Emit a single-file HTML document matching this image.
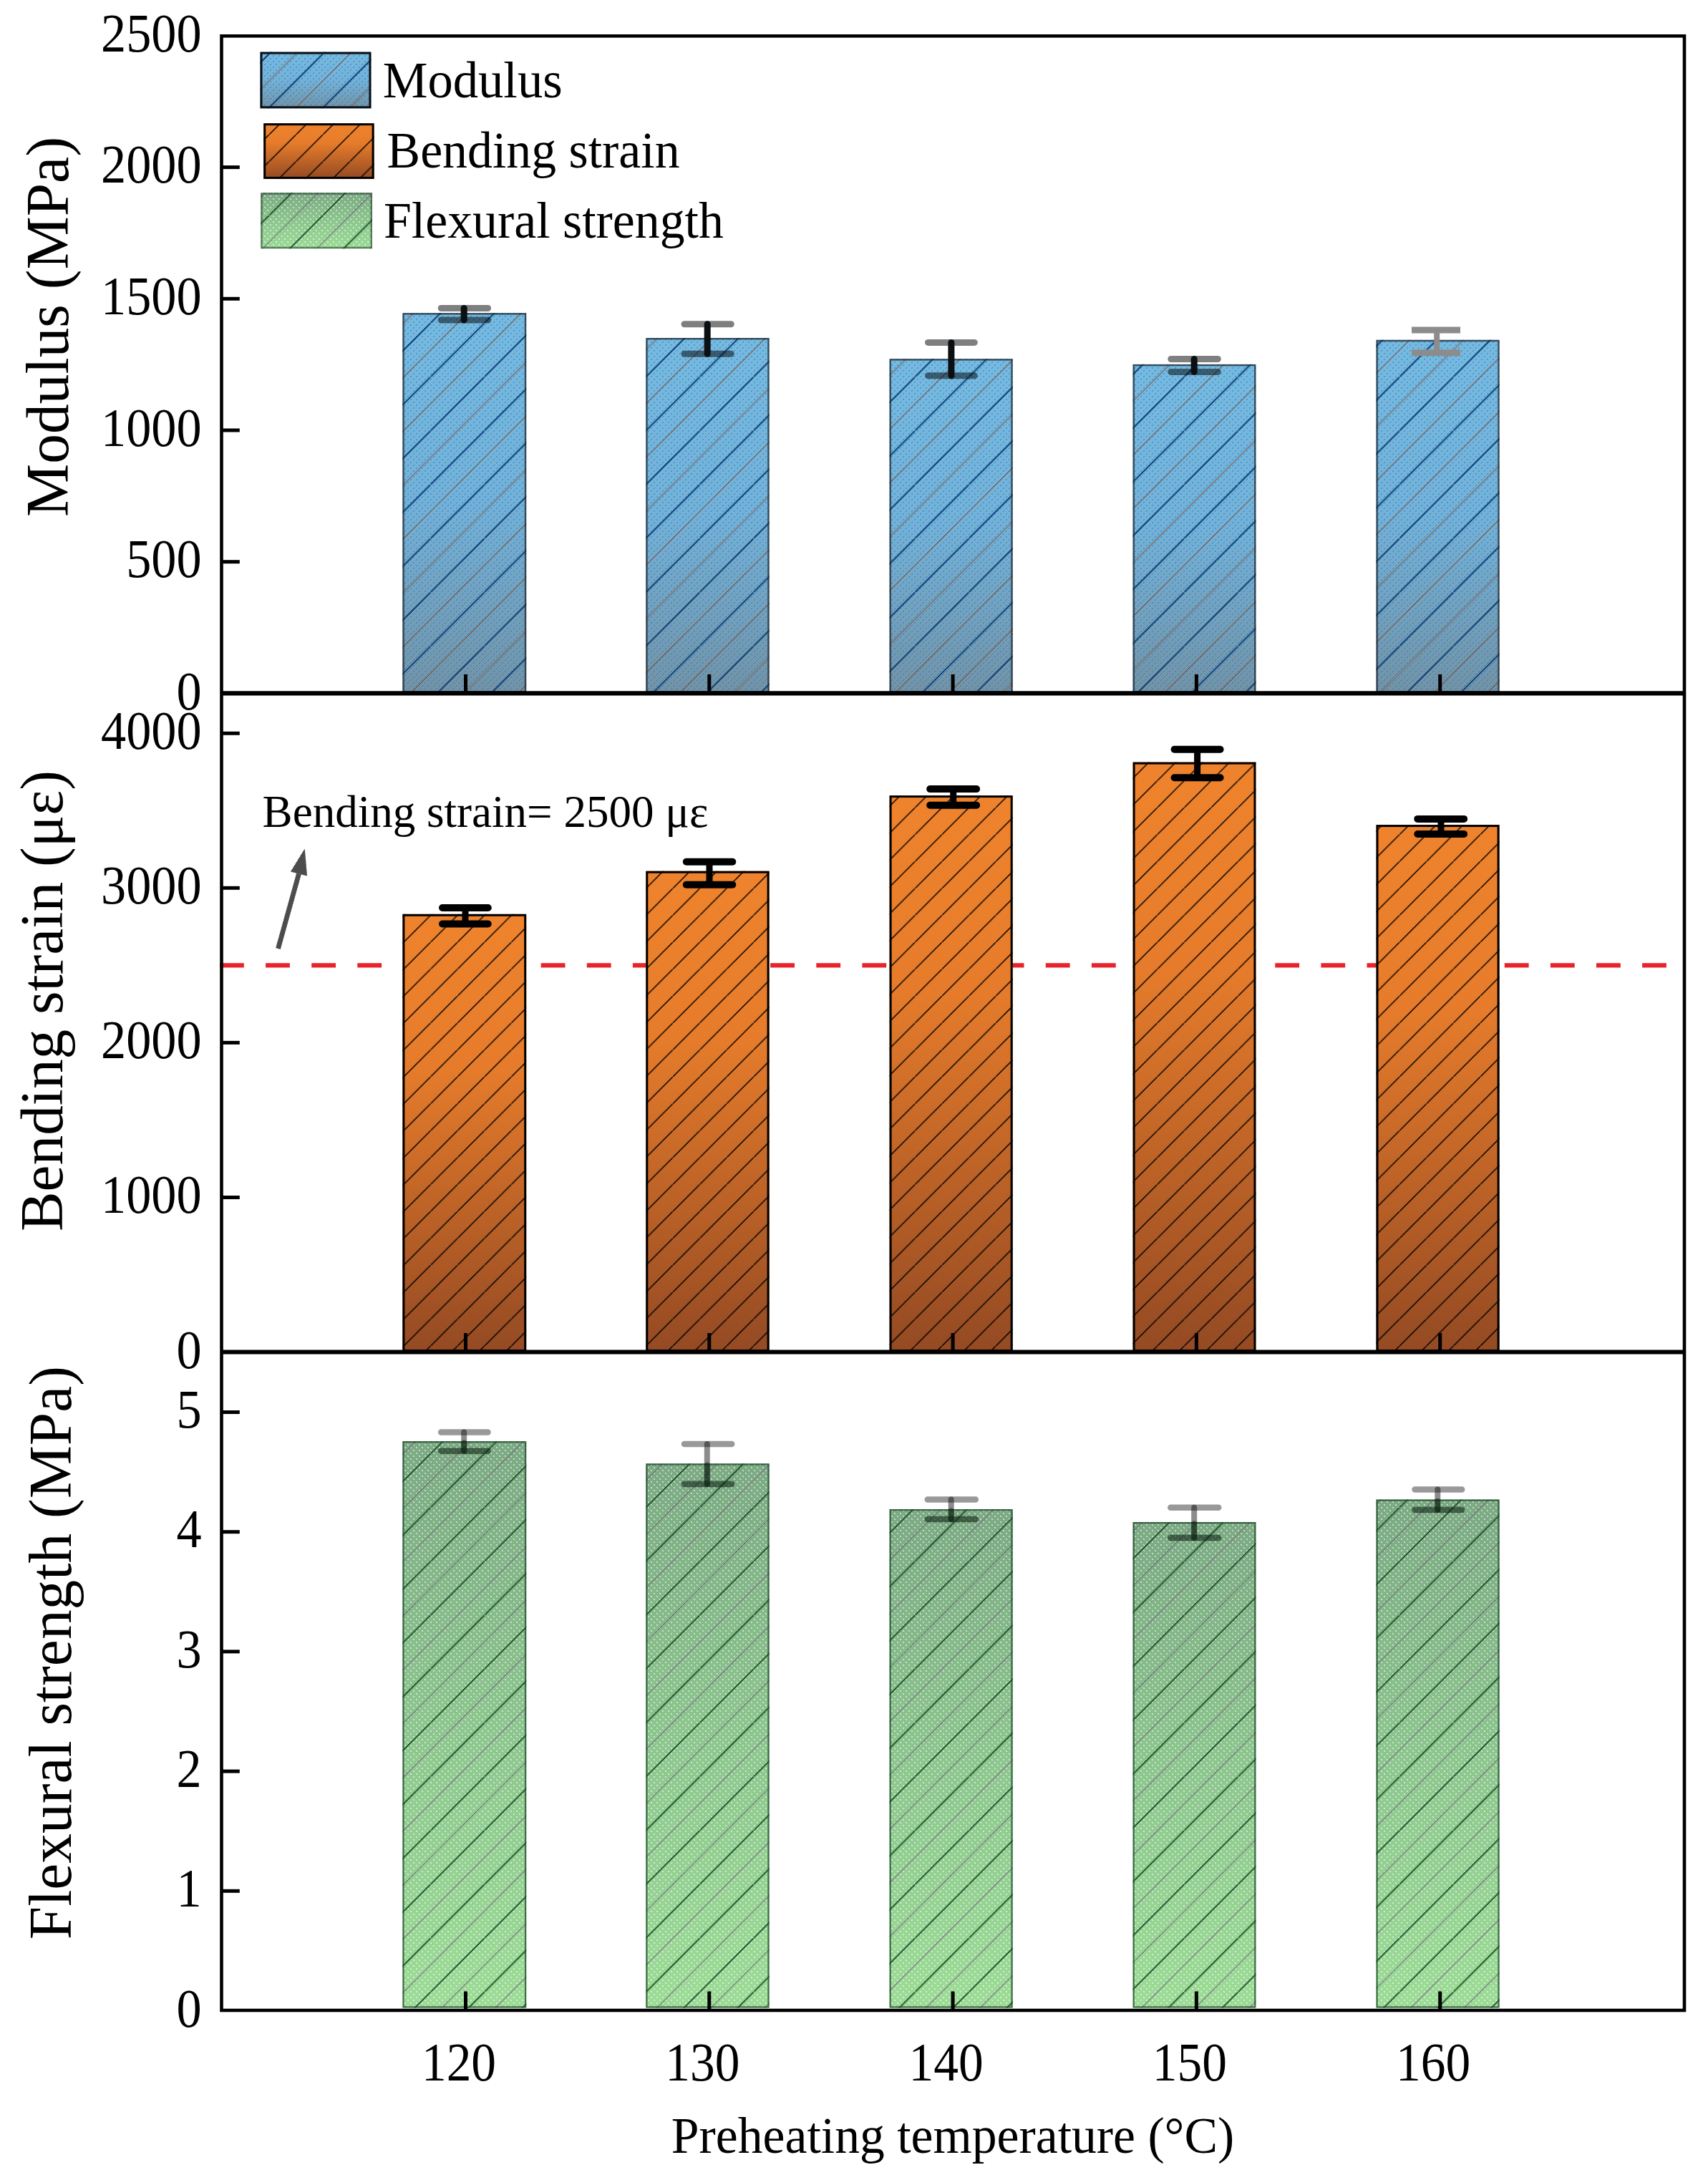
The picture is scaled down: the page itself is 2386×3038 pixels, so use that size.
<!DOCTYPE html>
<html lang="en"><head><meta charset="utf-8"><title>Preheating temperature chart</title>
<style>
html,body{margin:0;padding:0;background:#fff;}
body{width:2386px;height:3038px;overflow:hidden;}
svg{display:block;}
text{font-family:"Liberation Serif", "DejaVu Serif", serif;fill:#000;}
</style></head><body>
<svg width="2386" height="3038" viewBox="0 0 2386 3038">
<defs>
<linearGradient id="gBlueL" x1="0" y1="0" x2="0" y2="1">
<stop offset="0" stop-color="#a8dbf3"/><stop offset="1" stop-color="#a8d5ea"/>
</linearGradient>
<linearGradient id="gBlueD" x1="0" y1="0" x2="0" y2="1">
<stop offset="0" stop-color="#4698cb"/><stop offset="0.5" stop-color="#408abf"/><stop offset="1" stop-color="#3f4f5e"/>
</linearGradient>
<linearGradient id="gOrange" x1="0" y1="0" x2="0" y2="1">
<stop offset="0" stop-color="#ef832d"/><stop offset="0.35" stop-color="#e67c2b"/><stop offset="1" stop-color="#944a23"/>
</linearGradient>
<linearGradient id="gGreenL" x1="0" y1="0" x2="0" y2="1">
<stop offset="0" stop-color="#b9e4b4"/><stop offset="1" stop-color="#b9e8b4"/>
</linearGradient>
<linearGradient id="gGreenD" x1="0" y1="0" x2="0" y2="1">
<stop offset="0" stop-color="#3e7052"/><stop offset="0.5" stop-color="#60a568"/><stop offset="1" stop-color="#80d078"/>
</linearGradient>
<pattern id="chk" width="2" height="2" patternUnits="userSpaceOnUse">
<rect width="1" height="1" fill="#fff"/><rect x="1" y="1" width="1" height="1" fill="#fff"/>
</pattern>
<mask id="mchk" maskUnits="userSpaceOnUse" x="0" y="0" width="2386" height="3038">
<rect width="2386" height="3038" fill="url(#chk)"/>
</mask>
<pattern id="hatchK" width="37.6" height="37.6" patternUnits="userSpaceOnUse">
<path d="M-2,39.6 L39.6,-2" stroke="#000" stroke-width="1.5" fill="none"/>
</pattern>
<pattern id="hatchB" width="75.2" height="75.2" patternUnits="userSpaceOnUse">
<path d="M-2,77.2 L77.2,-2" stroke="#0d3f73" stroke-width="2.0" fill="none"/>
<path d="M-2,39.6 L39.6,-2 M35.6,77.2 L77.2,35.6" stroke="#7a5848" stroke-width="1.2" fill="none"/>
</pattern>
<pattern id="hatchG" width="75.2" height="75.2" patternUnits="userSpaceOnUse">
<path d="M-2,77.2 L77.2,-2" stroke="#174a25" stroke-width="1.9" fill="none"/>
<path d="M-2,39.6 L39.6,-2 M35.6,77.2 L77.2,35.6" stroke="#6f6a78" stroke-width="1.2" fill="none"/>
</pattern>
<pattern id="dotsB" width="8" height="8" patternUnits="userSpaceOnUse">
<rect x="1" y="1" width="2" height="2" fill="#1f7fd0" opacity="0.5"/><rect x="5" y="5" width="2" height="2" fill="#1f7fd0" opacity="0.5"/>
</pattern>
<pattern id="dotsG" width="8" height="8" patternUnits="userSpaceOnUse">
<rect x="1" y="1" width="2" height="2" fill="#fff" opacity="0.55"/><rect x="5" y="5" width="2" height="2" fill="#fff" opacity="0.55"/>
</pattern>
</defs>
<rect width="2386" height="3038" fill="#fff"/>

<g id="panel-modulus">
<rect x="562.4" y="437.2" width="172.8" height="529.2" fill="url(#gBlueL)"/>
<rect x="562.4" y="437.2" width="172.8" height="529.2" fill="url(#gBlueD)" mask="url(#mchk)"/>
<rect x="562.4" y="437.2" width="172.8" height="529.2" fill="url(#dotsB)"/>
<rect x="562.4" y="437.2" width="172.8" height="529.2" fill="url(#hatchB)"/>
<rect x="563.6" y="438.4" width="170.4" height="528.0" fill="none" stroke="#20262c" stroke-opacity="0.72" stroke-width="2.4"/>
<rect x="902.3" y="472.0" width="172.3" height="494.4" fill="url(#gBlueL)"/>
<rect x="902.3" y="472.0" width="172.3" height="494.4" fill="url(#gBlueD)" mask="url(#mchk)"/>
<rect x="902.3" y="472.0" width="172.3" height="494.4" fill="url(#dotsB)"/>
<rect x="902.3" y="472.0" width="172.3" height="494.4" fill="url(#hatchB)"/>
<rect x="903.5" y="473.2" width="169.9" height="493.2" fill="none" stroke="#20262c" stroke-opacity="0.72" stroke-width="2.4"/>
<rect x="1242.6" y="501.2" width="172.1" height="465.2" fill="url(#gBlueL)"/>
<rect x="1242.6" y="501.2" width="172.1" height="465.2" fill="url(#gBlueD)" mask="url(#mchk)"/>
<rect x="1242.6" y="501.2" width="172.1" height="465.2" fill="url(#dotsB)"/>
<rect x="1242.6" y="501.2" width="172.1" height="465.2" fill="url(#hatchB)"/>
<rect x="1243.8" y="502.4" width="169.7" height="464.0" fill="none" stroke="#20262c" stroke-opacity="0.72" stroke-width="2.4"/>
<rect x="1582.6" y="508.9" width="171.8" height="457.5" fill="url(#gBlueL)"/>
<rect x="1582.6" y="508.9" width="171.8" height="457.5" fill="url(#gBlueD)" mask="url(#mchk)"/>
<rect x="1582.6" y="508.9" width="171.8" height="457.5" fill="url(#dotsB)"/>
<rect x="1582.6" y="508.9" width="171.8" height="457.5" fill="url(#hatchB)"/>
<rect x="1583.8" y="510.1" width="169.4" height="456.3" fill="none" stroke="#20262c" stroke-opacity="0.72" stroke-width="2.4"/>
<rect x="1922.5" y="474.8" width="172.1" height="491.6" fill="url(#gBlueL)"/>
<rect x="1922.5" y="474.8" width="172.1" height="491.6" fill="url(#gBlueD)" mask="url(#mchk)"/>
<rect x="1922.5" y="474.8" width="172.1" height="491.6" fill="url(#dotsB)"/>
<rect x="1922.5" y="474.8" width="172.1" height="491.6" fill="url(#hatchB)"/>
<rect x="1923.7" y="476.0" width="169.7" height="490.4" fill="none" stroke="#20262c" stroke-opacity="0.72" stroke-width="2.4"/>
<line x1="616.2" y1="430.5" x2="681.6" y2="430.5" stroke="#000" stroke-opacity="0.5" stroke-width="9.0" stroke-linecap="round"/>
<line x1="616.2" y1="447.0" x2="681.6" y2="447.0" stroke="#000" stroke-opacity="0.5" stroke-width="9.0" stroke-linecap="round"/>
<line x1="648.2" y1="430.5" x2="648.2" y2="447.0" stroke="#0c0f12" stroke-opacity="1.0" stroke-width="9.0" stroke-linecap="round"/>
<line x1="956.0" y1="452.7" x2="1021.3" y2="452.7" stroke="#000" stroke-opacity="0.5" stroke-width="9.0" stroke-linecap="round"/>
<line x1="956.0" y1="494.2" x2="1021.3" y2="494.2" stroke="#000" stroke-opacity="0.5" stroke-width="9.0" stroke-linecap="round"/>
<line x1="988.2" y1="452.7" x2="988.2" y2="494.2" stroke="#0c0f12" stroke-opacity="1.0" stroke-width="9.0" stroke-linecap="round"/>
<line x1="1296.5" y1="478.4" x2="1361.3" y2="478.4" stroke="#000" stroke-opacity="0.5" stroke-width="9.0" stroke-linecap="round"/>
<line x1="1296.5" y1="524.7" x2="1361.3" y2="524.7" stroke="#000" stroke-opacity="0.5" stroke-width="9.0" stroke-linecap="round"/>
<line x1="1328.9" y1="478.4" x2="1328.9" y2="524.7" stroke="#0c0f12" stroke-opacity="1.0" stroke-width="9.0" stroke-linecap="round"/>
<line x1="1635.8" y1="501.5" x2="1701.3" y2="501.5" stroke="#000" stroke-opacity="0.5" stroke-width="9.0" stroke-linecap="round"/>
<line x1="1635.8" y1="519.4" x2="1701.3" y2="519.4" stroke="#000" stroke-opacity="0.5" stroke-width="9.0" stroke-linecap="round"/>
<line x1="1668.2" y1="501.5" x2="1668.2" y2="519.4" stroke="#0c0f12" stroke-opacity="1.0" stroke-width="9.0" stroke-linecap="round"/>
<line x1="1972.0" y1="461.1" x2="2040.0" y2="461.1" stroke="#8c8c8c" stroke-opacity="1.0" stroke-width="9.0" stroke-linecap="butt"/>
<line x1="1972.0" y1="492.8" x2="2040.0" y2="492.8" stroke="#8c8c8c" stroke-opacity="1.0" stroke-width="9.0" stroke-linecap="butt"/>
<line x1="2007.2" y1="461.1" x2="2007.2" y2="492.8" stroke="#8c8c8c" stroke-opacity="1.0" stroke-width="8.0" stroke-linecap="butt"/>
</g>
<g id="panel-strain">
<line x1="307.0" y1="1348.3" x2="2352" y2="1348.3" stroke="#e8232b" stroke-width="6.2" stroke-dasharray="33.8 30.3"/>
<rect x="562.4" y="1276.8" width="172.8" height="609.7" fill="url(#gOrange)"/>
<rect x="562.4" y="1276.8" width="172.8" height="609.7" fill="url(#hatchK)"/>
<rect x="563.9" y="1278.3" width="169.8" height="608.2" fill="none" stroke="#000" stroke-width="3"/>
<rect x="902.3" y="1216.7" width="172.3" height="669.8" fill="url(#gOrange)"/>
<rect x="902.3" y="1216.7" width="172.3" height="669.8" fill="url(#hatchK)"/>
<rect x="903.8" y="1218.2" width="169.3" height="668.3" fill="none" stroke="#000" stroke-width="3"/>
<rect x="1242.6" y="1111.1" width="172.1" height="775.4" fill="url(#gOrange)"/>
<rect x="1242.6" y="1111.1" width="172.1" height="775.4" fill="url(#hatchK)"/>
<rect x="1244.1" y="1112.6" width="169.1" height="773.9" fill="none" stroke="#000" stroke-width="3"/>
<rect x="1582.6" y="1064.6" width="171.8" height="821.9" fill="url(#gOrange)"/>
<rect x="1582.6" y="1064.6" width="171.8" height="821.9" fill="url(#hatchK)"/>
<rect x="1584.1" y="1066.1" width="168.8" height="820.4" fill="none" stroke="#000" stroke-width="3"/>
<rect x="1922.5" y="1152.1" width="172.1" height="734.4" fill="url(#gOrange)"/>
<rect x="1922.5" y="1152.1" width="172.1" height="734.4" fill="url(#hatchK)"/>
<rect x="1924.0" y="1153.6" width="169.1" height="732.9" fill="none" stroke="#000" stroke-width="3"/>
<line x1="618.0" y1="1268.0" x2="681.8" y2="1268.0" stroke="#000" stroke-opacity="1.0" stroke-width="10.0" stroke-linecap="round"/>
<line x1="618.0" y1="1290.5" x2="681.8" y2="1290.5" stroke="#000" stroke-opacity="1.0" stroke-width="10.0" stroke-linecap="round"/>
<line x1="650.0" y1="1268.0" x2="650.0" y2="1290.5" stroke="#000" stroke-opacity="1.0" stroke-width="9.0" stroke-linecap="butt"/>
<line x1="958.8" y1="1203.7" x2="1023.3" y2="1203.7" stroke="#000" stroke-opacity="1.0" stroke-width="10.0" stroke-linecap="round"/>
<line x1="958.8" y1="1235.7" x2="1023.3" y2="1235.7" stroke="#000" stroke-opacity="1.0" stroke-width="10.0" stroke-linecap="round"/>
<line x1="991.0" y1="1203.7" x2="991.0" y2="1235.7" stroke="#000" stroke-opacity="1.0" stroke-width="9.0" stroke-linecap="butt"/>
<line x1="1299.2" y1="1102.1" x2="1364.1" y2="1102.1" stroke="#000" stroke-opacity="1.0" stroke-width="10.0" stroke-linecap="round"/>
<line x1="1299.2" y1="1124.8" x2="1364.1" y2="1124.8" stroke="#000" stroke-opacity="1.0" stroke-width="10.0" stroke-linecap="round"/>
<line x1="1331.7" y1="1102.1" x2="1331.7" y2="1124.8" stroke="#000" stroke-opacity="1.0" stroke-width="9.0" stroke-linecap="butt"/>
<line x1="1640.6" y1="1046.8" x2="1704.6" y2="1046.8" stroke="#000" stroke-opacity="1.0" stroke-width="10.0" stroke-linecap="round"/>
<line x1="1640.6" y1="1086.3" x2="1704.6" y2="1086.3" stroke="#000" stroke-opacity="1.0" stroke-width="10.0" stroke-linecap="round"/>
<line x1="1672.6" y1="1046.8" x2="1672.6" y2="1086.3" stroke="#000" stroke-opacity="1.0" stroke-width="9.0" stroke-linecap="butt"/>
<line x1="1980.3" y1="1143.9" x2="2045.1" y2="1143.9" stroke="#000" stroke-opacity="1.0" stroke-width="10.0" stroke-linecap="round"/>
<line x1="1980.3" y1="1165.0" x2="2045.1" y2="1165.0" stroke="#000" stroke-opacity="1.0" stroke-width="10.0" stroke-linecap="round"/>
<line x1="2013.0" y1="1143.9" x2="2013.0" y2="1165.0" stroke="#000" stroke-opacity="1.0" stroke-width="9.0" stroke-linecap="butt"/>
</g>
<g id="panel-strength">
<rect x="562.4" y="2013.0" width="172.8" height="791.5" fill="url(#gGreenL)"/>
<rect x="562.4" y="2013.0" width="172.8" height="791.5" fill="url(#gGreenD)" mask="url(#mchk)"/>
<rect x="562.4" y="2013.0" width="172.8" height="791.5" fill="url(#dotsG)"/>
<rect x="562.4" y="2013.0" width="172.8" height="791.5" fill="url(#hatchG)"/>
<rect x="563.5" y="2014.1" width="170.6" height="789.3" fill="none" stroke="#1f4a2b" stroke-opacity="0.75" stroke-width="2.2"/>
<rect x="902.3" y="2044.3" width="172.3" height="760.2" fill="url(#gGreenL)"/>
<rect x="902.3" y="2044.3" width="172.3" height="760.2" fill="url(#gGreenD)" mask="url(#mchk)"/>
<rect x="902.3" y="2044.3" width="172.3" height="760.2" fill="url(#dotsG)"/>
<rect x="902.3" y="2044.3" width="172.3" height="760.2" fill="url(#hatchG)"/>
<rect x="903.4" y="2045.4" width="170.1" height="758.0" fill="none" stroke="#1f4a2b" stroke-opacity="0.75" stroke-width="2.2"/>
<rect x="1242.6" y="2108.0" width="172.1" height="696.5" fill="url(#gGreenL)"/>
<rect x="1242.6" y="2108.0" width="172.1" height="696.5" fill="url(#gGreenD)" mask="url(#mchk)"/>
<rect x="1242.6" y="2108.0" width="172.1" height="696.5" fill="url(#dotsG)"/>
<rect x="1242.6" y="2108.0" width="172.1" height="696.5" fill="url(#hatchG)"/>
<rect x="1243.7" y="2109.1" width="169.9" height="694.3" fill="none" stroke="#1f4a2b" stroke-opacity="0.75" stroke-width="2.2"/>
<rect x="1582.6" y="2126.0" width="171.8" height="678.5" fill="url(#gGreenL)"/>
<rect x="1582.6" y="2126.0" width="171.8" height="678.5" fill="url(#gGreenD)" mask="url(#mchk)"/>
<rect x="1582.6" y="2126.0" width="171.8" height="678.5" fill="url(#dotsG)"/>
<rect x="1582.6" y="2126.0" width="171.8" height="678.5" fill="url(#hatchG)"/>
<rect x="1583.7" y="2127.1" width="169.6" height="676.3" fill="none" stroke="#1f4a2b" stroke-opacity="0.75" stroke-width="2.2"/>
<rect x="1922.5" y="2094.5" width="172.1" height="710.0" fill="url(#gGreenL)"/>
<rect x="1922.5" y="2094.5" width="172.1" height="710.0" fill="url(#gGreenD)" mask="url(#mchk)"/>
<rect x="1922.5" y="2094.5" width="172.1" height="710.0" fill="url(#dotsG)"/>
<rect x="1922.5" y="2094.5" width="172.1" height="710.0" fill="url(#hatchG)"/>
<rect x="1923.6" y="2095.6" width="169.9" height="707.8" fill="none" stroke="#1f4a2b" stroke-opacity="0.75" stroke-width="2.2"/>
<line x1="616.2" y1="2000.4" x2="681.5" y2="2000.4" stroke="#000" stroke-opacity="0.4" stroke-width="8.5" stroke-linecap="round"/>
<line x1="616.2" y1="2026.7" x2="681.5" y2="2026.7" stroke="#000" stroke-opacity="0.4" stroke-width="8.5" stroke-linecap="round"/>
<line x1="648.2" y1="2000.4" x2="648.2" y2="2026.7" stroke="#000" stroke-opacity="0.45" stroke-width="8.0" stroke-linecap="round"/>
<line x1="616.2" y1="2026.7" x2="681.6" y2="2026.7" stroke="#143d22" stroke-opacity="0.28" stroke-width="8.5" stroke-linecap="round"/>
<line x1="648.2" y1="2015.0" x2="648.2" y2="2026.7" stroke="#0f2a18" stroke-opacity="0.5" stroke-width="7.5" stroke-linecap="round"/>
<line x1="956.0" y1="2016.9" x2="1022.2" y2="2016.9" stroke="#000" stroke-opacity="0.4" stroke-width="8.5" stroke-linecap="round"/>
<line x1="956.0" y1="2073.1" x2="1022.2" y2="2073.1" stroke="#000" stroke-opacity="0.4" stroke-width="8.5" stroke-linecap="round"/>
<line x1="987.8" y1="2016.9" x2="987.8" y2="2073.1" stroke="#000" stroke-opacity="0.45" stroke-width="8.0" stroke-linecap="round"/>
<line x1="955.9" y1="2073.1" x2="1022.3" y2="2073.1" stroke="#143d22" stroke-opacity="0.28" stroke-width="8.5" stroke-linecap="round"/>
<line x1="987.8" y1="2046.3" x2="987.8" y2="2073.1" stroke="#0f2a18" stroke-opacity="0.5" stroke-width="7.5" stroke-linecap="round"/>
<line x1="1295.8" y1="2094.5" x2="1362.8" y2="2094.5" stroke="#000" stroke-opacity="0.4" stroke-width="8.5" stroke-linecap="round"/>
<line x1="1295.8" y1="2122.1" x2="1362.8" y2="2122.1" stroke="#000" stroke-opacity="0.4" stroke-width="8.5" stroke-linecap="round"/>
<line x1="1328.7" y1="2094.5" x2="1328.7" y2="2122.1" stroke="#000" stroke-opacity="0.45" stroke-width="8.0" stroke-linecap="round"/>
<line x1="1295.8" y1="2122.1" x2="1362.8" y2="2122.1" stroke="#143d22" stroke-opacity="0.28" stroke-width="8.5" stroke-linecap="round"/>
<line x1="1328.7" y1="2110.0" x2="1328.7" y2="2122.1" stroke="#0f2a18" stroke-opacity="0.5" stroke-width="7.5" stroke-linecap="round"/>
<line x1="1635.3" y1="2105.8" x2="1702.2" y2="2105.8" stroke="#000" stroke-opacity="0.4" stroke-width="8.5" stroke-linecap="round"/>
<line x1="1635.3" y1="2147.9" x2="1702.2" y2="2147.9" stroke="#000" stroke-opacity="0.4" stroke-width="8.5" stroke-linecap="round"/>
<line x1="1668.2" y1="2105.8" x2="1668.2" y2="2147.9" stroke="#000" stroke-opacity="0.45" stroke-width="8.0" stroke-linecap="round"/>
<line x1="1635.3" y1="2147.9" x2="1702.3" y2="2147.9" stroke="#143d22" stroke-opacity="0.28" stroke-width="8.5" stroke-linecap="round"/>
<line x1="1668.2" y1="2128.0" x2="1668.2" y2="2147.9" stroke="#0f2a18" stroke-opacity="0.5" stroke-width="7.5" stroke-linecap="round"/>
<line x1="1976.5" y1="2080.5" x2="2042.2" y2="2080.5" stroke="#000" stroke-opacity="0.4" stroke-width="8.5" stroke-linecap="round"/>
<line x1="1976.5" y1="2109.1" x2="2042.2" y2="2109.1" stroke="#000" stroke-opacity="0.4" stroke-width="8.5" stroke-linecap="round"/>
<line x1="2008.3" y1="2080.5" x2="2008.3" y2="2109.1" stroke="#000" stroke-opacity="0.45" stroke-width="8.0" stroke-linecap="round"/>
<line x1="1976.5" y1="2109.1" x2="2042.3" y2="2109.1" stroke="#143d22" stroke-opacity="0.28" stroke-width="8.5" stroke-linecap="round"/>
<line x1="2008.3" y1="2096.5" x2="2008.3" y2="2109.1" stroke="#0f2a18" stroke-opacity="0.5" stroke-width="7.5" stroke-linecap="round"/>
</g>
<g id="axes" stroke="#000" fill="none">
<rect x="309.5" y="50.3" width="2043.5" height="2757.7" stroke-width="4.6"/>
<line x1="309.5" y1="968.4" x2="2353.0" y2="968.4" stroke-width="6.2"/>
<line x1="309.5" y1="1888.5" x2="2353.0" y2="1888.5" stroke-width="6.2"/>
<line x1="309.5" y1="784.7" x2="334.8" y2="784.7" stroke-width="5.0"/>
<line x1="309.5" y1="601.0" x2="334.8" y2="601.0" stroke-width="5.0"/>
<line x1="309.5" y1="417.3" x2="334.8" y2="417.3" stroke-width="5.0"/>
<line x1="309.5" y1="233.6" x2="334.8" y2="233.6" stroke-width="5.0"/>
<line x1="309.5" y1="1672.5" x2="334.8" y2="1672.5" stroke-width="5.0"/>
<line x1="309.5" y1="1456.4" x2="334.8" y2="1456.4" stroke-width="5.0"/>
<line x1="309.5" y1="1240.3" x2="334.8" y2="1240.3" stroke-width="5.0"/>
<line x1="309.5" y1="1024.3" x2="334.8" y2="1024.3" stroke-width="5.0"/>
<line x1="309.5" y1="2641.3" x2="334.8" y2="2641.3" stroke-width="5.0"/>
<line x1="309.5" y1="2474.1" x2="334.8" y2="2474.1" stroke-width="5.0"/>
<line x1="309.5" y1="2306.9" x2="334.8" y2="2306.9" stroke-width="5.0"/>
<line x1="309.5" y1="2139.7" x2="334.8" y2="2139.7" stroke-width="5.0"/>
<line x1="309.5" y1="1972.5" x2="334.8" y2="1972.5" stroke-width="5.0"/>
<line x1="650.5" y1="968.4" x2="650.5" y2="941.9" stroke-width="5.0"/>
<line x1="990.8" y1="968.4" x2="990.8" y2="941.9" stroke-width="5.0"/>
<line x1="1331.1" y1="968.4" x2="1331.1" y2="941.9" stroke-width="5.0"/>
<line x1="1671.4" y1="968.4" x2="1671.4" y2="941.9" stroke-width="5.0"/>
<line x1="2011.7" y1="968.4" x2="2011.7" y2="941.9" stroke-width="5.0"/>
<line x1="650.5" y1="1888.5" x2="650.5" y2="1862.0" stroke-width="5.0"/>
<line x1="990.8" y1="1888.5" x2="990.8" y2="1862.0" stroke-width="5.0"/>
<line x1="1331.1" y1="1888.5" x2="1331.1" y2="1862.0" stroke-width="5.0"/>
<line x1="1671.4" y1="1888.5" x2="1671.4" y2="1862.0" stroke-width="5.0"/>
<line x1="2011.7" y1="1888.5" x2="2011.7" y2="1862.0" stroke-width="5.0"/>
<line x1="650.5" y1="2808.0" x2="650.5" y2="2781.5" stroke-width="5.0"/>
<line x1="990.8" y1="2808.0" x2="990.8" y2="2781.5" stroke-width="5.0"/>
<line x1="1331.1" y1="2808.0" x2="1331.1" y2="2781.5" stroke-width="5.0"/>
<line x1="1671.4" y1="2808.0" x2="1671.4" y2="2781.5" stroke-width="5.0"/>
<line x1="2011.7" y1="2808.0" x2="2011.7" y2="2781.5" stroke-width="5.0"/>
</g>
<g id="ticklabels">
<text transform="translate(281.6,71.5) scale(1.0,1.09)" font-size="70.3" text-anchor="end">2500</text>
<text transform="translate(281.6,806.3) scale(1.0,1.09)" font-size="70.3" text-anchor="end">500</text>
<text transform="translate(281.6,622.6) scale(1.0,1.09)" font-size="70.3" text-anchor="end">1000</text>
<text transform="translate(281.6,438.9) scale(1.0,1.09)" font-size="70.3" text-anchor="end">1500</text>
<text transform="translate(281.6,255.2) scale(1.0,1.09)" font-size="70.3" text-anchor="end">2000</text>
<text transform="translate(281.6,990.8) scale(1.0,1.09)" font-size="70.3" text-anchor="end">0</text>
<text transform="translate(281.6,1694.0) scale(1.0,1.09)" font-size="70.3" text-anchor="end">1000</text>
<text transform="translate(281.6,1478.0) scale(1.0,1.09)" font-size="70.3" text-anchor="end">2000</text>
<text transform="translate(281.6,1261.9) scale(1.0,1.09)" font-size="70.3" text-anchor="end">3000</text>
<text transform="translate(281.6,1045.9) scale(1.0,1.09)" font-size="70.3" text-anchor="end">4000</text>
<text transform="translate(281.6,1910.9) scale(1.0,1.09)" font-size="70.3" text-anchor="end">0</text>
<text transform="translate(281.6,2662.9) scale(1.0,1.09)" font-size="70.3" text-anchor="end">1</text>
<text transform="translate(281.6,2495.7) scale(1.0,1.09)" font-size="70.3" text-anchor="end">2</text>
<text transform="translate(281.6,2328.5) scale(1.0,1.09)" font-size="70.3" text-anchor="end">3</text>
<text transform="translate(281.6,2161.3) scale(1.0,1.09)" font-size="70.3" text-anchor="end">4</text>
<text transform="translate(281.6,1994.1) scale(1.0,1.09)" font-size="70.3" text-anchor="end">5</text>
<text transform="translate(281.6,2830.9) scale(1.0,1.09)" font-size="70.3" text-anchor="end">0</text>
<text transform="translate(641.0,2906.0) scale(1.0,1.09)" font-size="69.5" text-anchor="middle">120</text>
<text transform="translate(981.3,2906.0) scale(1.0,1.09)" font-size="69.5" text-anchor="middle">130</text>
<text transform="translate(1321.6,2906.0) scale(1.0,1.09)" font-size="69.5" text-anchor="middle">140</text>
<text transform="translate(1661.9,2906.0) scale(1.0,1.09)" font-size="69.5" text-anchor="middle">150</text>
<text transform="translate(2002.2,2906.0) scale(1.0,1.09)" font-size="69.5" text-anchor="middle">160</text>
</g>
<g id="titles">
<text transform="translate(1331.0,3006.6) scale(1.0,1.04)" font-size="69.7" text-anchor="middle">Preheating temperature (°C)</text>
<text transform="translate(95.0,456.5) rotate(-90) scale(0.982,1.0)" font-size="85" text-anchor="middle">Modulus (MPa)</text>
<text transform="translate(86.6,1398.0) rotate(-90) scale(0.98,1.0)" font-size="85" text-anchor="middle">Bending strain (με)</text>
<text transform="translate(99.4,2308.6) rotate(-90) scale(0.981,1.0)" font-size="85" text-anchor="middle">Flexural strength (MPa)</text>
</g>
<g id="legend">
<rect x="363.5" y="72.6" width="154.9" height="78.7" fill="url(#gBlueL)"/>
<rect x="363.5" y="72.6" width="154.9" height="78.7" fill="url(#gBlueD)" mask="url(#mchk)"/>
<rect x="363.5" y="72.6" width="154.9" height="78.7" fill="url(#dotsB)"/>
<rect x="363.5" y="72.6" width="154.9" height="78.7" fill="url(#hatchB)"/>
<rect x="365.0" y="74.1" width="151.9" height="75.7" fill="none" stroke="#0c1014" stroke-width="3"/>
<rect x="368.2" y="172.2" width="154.4" height="77.7" fill="url(#gOrange)"/>
<rect x="368.2" y="172.2" width="154.4" height="77.7" fill="url(#hatchK)"/>
<rect x="369.7" y="173.7" width="151.4" height="74.7" fill="none" stroke="#000" stroke-width="3"/>
<rect x="364.3" y="269.2" width="155.7" height="78.0" fill="url(#gGreenL)"/>
<rect x="364.3" y="269.2" width="155.7" height="78.0" fill="url(#gGreenD)" mask="url(#mchk)"/>
<rect x="364.3" y="269.2" width="155.7" height="78.0" fill="url(#dotsG)"/>
<rect x="364.3" y="269.2" width="155.7" height="78.0" fill="url(#hatchG)"/>
<rect x="365.5" y="270.4" width="153.3" height="75.6" fill="none" stroke="#26402e" stroke-opacity="0.6" stroke-width="2.4"/>
<text transform="translate(534.7,135.9) scale(1.0,1.03)" font-size="70.6" text-anchor="start">Modulus</text>
<text transform="translate(540.6,234.4) scale(1.0,1.03)" font-size="69.8" text-anchor="start">Bending strain</text>
<text transform="translate(536.0,331.8) scale(1.0,1.03)" font-size="69.8" text-anchor="start">Flexural strength</text>
</g>
<g id="annotation">
<text transform="translate(366.6,1154.9)" font-size="63.05" text-anchor="start">Bending strain= 2500 με</text>
<g opacity="0.4"><line x1="388.5" y1="1325" x2="417.5" y2="1220.5" stroke="#000" stroke-width="6.7"/><polygon points="425.7,1185.4 406.0,1217.6 429.0,1223.4" fill="#000"/></g>
<g mask="url(#mchk)"><line x1="388.5" y1="1325" x2="417.5" y2="1220.5" stroke="#000" stroke-width="6.7"/><polygon points="425.7,1185.4 406.0,1217.6 429.0,1223.4" fill="#000"/></g>
</g>
</svg>
</body></html>
